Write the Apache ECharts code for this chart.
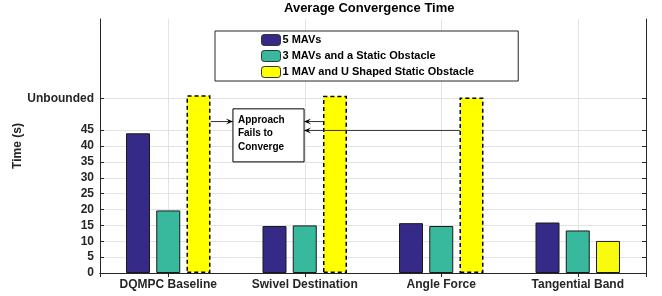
<!DOCTYPE html>
<html>
<head>
<meta charset="utf-8">
<script src="https://cdn.jsdelivr.net/npm/echarts@6/dist/echarts.min.js"></script>
<style>
  html, body { margin: 0; padding: 0; background: #fff; }
  #chart { width: 662px; height: 296px; }
</style>
</head>
<body>
<div id="chart"></div>
<script>
// categories and values
const categories = ['DQMPC Baseline', 'Swivel Destination', 'Angle Force', 'Tangential Band']
const seriesNames = ['5 MAVs', '3 MAVs and a Static Obstacle', '1 MAV and U Shaped Static Obstacle']
const fiveMavs = [44.0, 14.8, 15.7, 15.9]
const threeMavs = [19.7, 15.0, 14.8, 13.4]
const oneMav = [56.0, 55.8, 55.3, 10.1]
const unbounded = [true, true, true, false]   // bars drawn dashed (did not converge)
const yTicks = [0, 5, 10, 15, 20, 25, 30, 35, 40, 45, 55]
const unboundedTick = 55

// annotation, in axis units (x: category position 1..4, y: seconds)
const noteLines = ['Approach', 'Fails to', 'Converge']
const noteBox = { x1: 1.474, x2: 1.995, yTop: 51.7, yBottom: 35.0 }
const arrows = [
  { from: [1.311, 47.7], to: [1.474, 47.7] },
  { from: [2.136, 47.7], to: [1.995, 47.7] },
  { from: [3.136, 44.9], to: [1.995, 44.9] }
]

const axisColor = '#262626'
const gridColor = '#e3e3e3'
const font = 'Liberation Sans, Arial, sans-serif'

const chart = echarts.init(document.getElementById('chart'))

const option = {
  animation: false,
  backgroundColor: '#fff',
  title: {
    text: 'Average Convergence Time',
    left: 284,
    top: 2,
    padding: 0,
    textStyle: { fontFamily: font, fontSize: 13, fontWeight: 'bold', color: '#000' }
  },
  legend: {
    orient: 'vertical',
    left: 215,
    top: 31,
    padding: [3, 44, 3, 46],
    itemWidth: 19,
    itemHeight: 11,
    itemGap: 4,
    borderColor: axisColor,
    borderWidth: 1,
    backgroundColor: '#fff',
    selectedMode: false,
    textStyle: { fontFamily: font, fontSize: 11, fontWeight: 'bold', color: '#000', padding: [0, 0, 0, -3] },
    data: seriesNames.map(name => ({
      name,
      itemStyle: { borderColor: '#333', borderWidth: 1, borderType: 'solid' }
    }))
  },
  grid: { left: 100, right: 16, top: 19, bottom: 23 },
  xAxis: [
    {
      type: 'category',
      data: categories,
      boundaryGap: true,
      axisLine: { lineStyle: { color: axisColor } },
      axisTick: { inside: true, alignWithLabel: true, length: 4, lineStyle: { color: axisColor } },
      axisLabel: { interval: 0, fontFamily: font, fontSize: 12, fontWeight: 'bold', color: axisColor, margin: 6 },
      splitLine: { show: false }
    },
    {
      type: 'value',
      position: 'top',
      min: 0.5,
      max: 4.5,
      splitNumber: 4,
      axisLine: { show: true, lineStyle: { color: axisColor } },
      axisTick: { show: true, inside: true, length: 4, lineStyle: { color: axisColor } },
      axisLabel: { show: false },
      splitLine: { show: true, lineStyle: { color: gridColor } }
    }
  ],
  yAxis: [
    {
      type: 'value',
      min: 0,
      max: 80,
      name: 'Time (s)',
      nameLocation: 'middle',
      nameGap: 76,
      nameMoveOverlap: false,
      nameTextStyle: { fontFamily: font, fontSize: 12, fontWeight: 'bold', color: axisColor },
      axisLine: { show: true, lineStyle: { color: axisColor } },
      axisTick: { show: true, inside: true, length: 4, customValues: yTicks, lineStyle: { color: axisColor } },
      axisLabel: {
        customValues: yTicks,
        fontFamily: font, fontSize: 12, fontWeight: 'bold', color: axisColor, margin: 6,
        formatter: v => (v === unboundedTick ? 'Unbounded' : String(v))
      },
      splitLine: { show: true, lineStyle: { color: gridColor } }
    },
    {
      type: 'value',
      min: 0,
      max: 80,
      position: 'right',
      axisLine: { show: true, lineStyle: { color: axisColor } },
      axisTick: { show: true, inside: true, length: 4, customValues: yTicks, lineStyle: { color: axisColor } },
      axisLabel: { show: false, customValues: yTicks },
      splitLine: { show: false }
    }
  ],
  series: [
    {
      name: seriesNames[0],
      type: 'bar',
      data: fiveMavs,
      barWidth: 24,
      barGap: '26%',
      itemStyle: { color: '#352a87', borderColor: '#1a1a1a', borderWidth: 1 }
    },
    {
      name: seriesNames[1],
      type: 'bar',
      data: threeMavs,
      barWidth: 24,
      barGap: '26%',
      itemStyle: { color: '#38b89d', borderColor: '#1a1a1a', borderWidth: 1 }
    },
    {
      name: seriesNames[2],
      type: 'bar',
      barWidth: 24,
      barGap: '26%',
      itemStyle: { color: '#ffff00', borderColor: '#1a1a1a', borderWidth: 1 },
      data: oneMav.map((v, i) => unbounded[i]
        ? { value: v, itemStyle: { color: '#ffff00', borderColor: '#000', borderWidth: 1.5, borderType: [4, 3] } }
        : { value: v, itemStyle: { color: '#f9fb0e' } })
    }
  ]
}

chart.setOption(option)

// annotation box and arrows, placed through the axes
const px = x => chart.convertToPixel({ xAxisIndex: 1 }, x)
const py = y => chart.convertToPixel({ yAxisIndex: 0 }, y)

const arrowHead = (x1, y1, x2, y2) => {
  const dir = Math.sign(x2 - x1)
  const len = 7, half = 3, notch = 4
  return {
    type: 'polygon',
    shape: { points: [[x2, y2], [x2 - dir * len, y2 - half], [x2 - dir * notch, y2], [x2 - dir * len, y2 + half]] },
    style: { fill: '#000' },
    z: 100
  }
}

const graphics = []
const bx1 = px(noteBox.x1), bx2 = px(noteBox.x2)
const by1 = py(noteBox.yTop), by2 = py(noteBox.yBottom)
graphics.push({
  type: 'rect',
  shape: { x: bx1, y: by1, width: bx2 - bx1, height: by2 - by1 },
  style: { fill: '#fff', stroke: '#000', lineWidth: 1 },
  z: 100
})
noteLines.forEach((t, i) => {
  graphics.push({
    type: 'text',
    x: bx1 + 5,
    y: by1 + 11 + i * 13.5,
    style: { text: t, fontFamily: font, fontSize: 10, fontWeight: 'bold', fill: '#000', verticalAlign: 'middle' },
    z: 101
  })
})
arrows.forEach(a => {
  const x1 = px(a.from[0]), y1 = py(a.from[1])
  const x2 = px(a.to[0]), y2 = py(a.to[1])
  graphics.push({
    type: 'line',
    shape: { x1, y1, x2, y2 },
    style: { stroke: '#333', lineWidth: 1 },
    z: 100
  })
  graphics.push(arrowHead(x1, y1, x2, y2))
})

chart.setOption({ graphic: graphics })
</script>
</body>
</html>
